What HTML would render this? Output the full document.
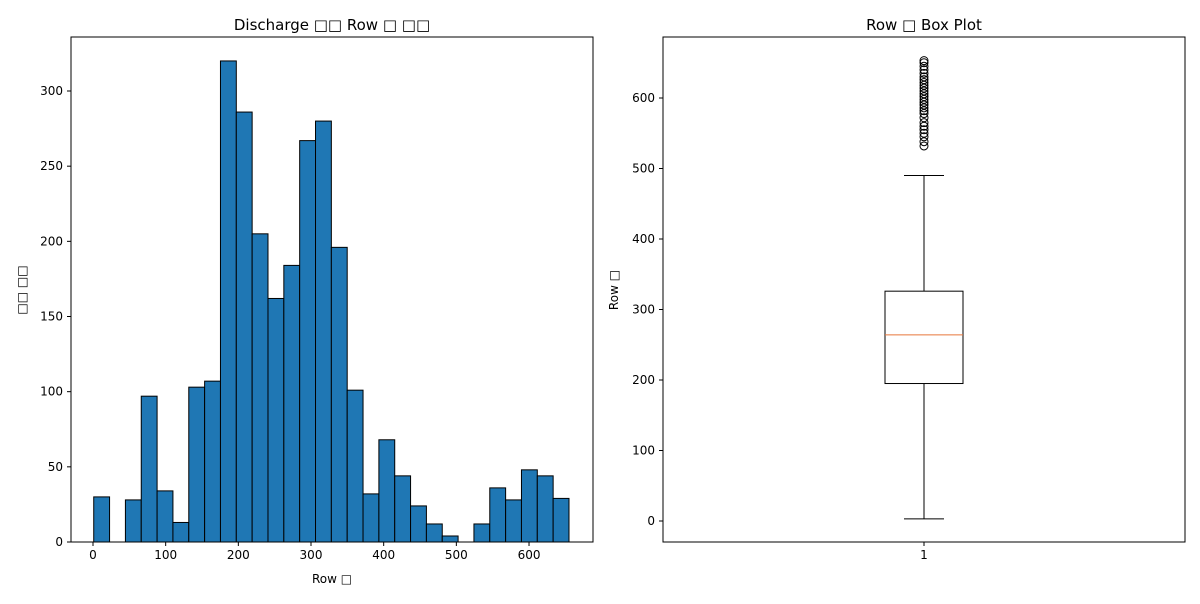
<!DOCTYPE html>
<html><head><meta charset="utf-8"><style>
body{margin:0;background:#fff;font-family:"DejaVu Sans","Liberation Sans",sans-serif}
svg text{font-family:"DejaVu Sans","Liberation Sans",sans-serif;fill:#000}
</style></head><body>
<svg id="c" width="1200" height="600" viewBox="0 0 1200 600"></svg>
<script>
const histCounts=[30,0,28,97,34,13,103,107,320,286,205,162,184,267,280,196,101,32,68,44,24,12,4,0,12,36,28,48,44,29];
const histMin=1, histMax=655;
const histXTicks=[0,100,200,300,400,500,600];
const histYTicks=[0,50,100,150,200,250,300];
const boxStats=[3,195,264,326,490];
const boxOutliers=[532,538,545,550,555,560,565,572,578,582,586,590,594,598,602,606,610,614,618,622,626,630,635,640,645,650,653];
const boxYTicks=[0,100,200,300,400,500,600];
const NS='http://www.w3.org/2000/svg';
const svg=document.getElementById('c');
function el(t,a,p){const e=document.createElementNS(NS,t);for(const k in a)e.setAttribute(k,a[k]);(p||svg).appendChild(e);return e;}
function txt(x,y,s,a,size,anchor,rot){const e=el('text',{x:x,y:y,'font-size':size||12,'text-anchor':anchor||'middle'});if(rot)e.setAttribute('transform','rotate(-90 '+x+' '+y+')');e.textContent=s;return e;}
// histogram
const hx=v=>93+v*0.7267, hy=v=>542-v*1.5033;
const bw=(histMax-histMin)/histCounts.length;
histCounts.forEach((c,i)=>{const x0=hx(histMin+i*bw),x1=hx(histMin+(i+1)*bw);
const r=el('rect',{x:x0,y:hy(c),width:x1-x0,height:hy(0)-hy(c),fill:'#1f77b4',stroke:'#000','stroke-width':1});

});
el('rect',{x:71,y:37,width:522,height:505,fill:'none',stroke:'#000','stroke-width':1,});
histXTicks.forEach(v=>{el('line',{x1:hx(v),x2:hx(v),y1:542,y2:546,stroke:'#000'});const t=txt(hx(v),559,v);});
histYTicks.forEach(v=>{el('line',{x1:67,x2:71,y1:hy(v),y2:hy(v),stroke:'#000'});const t=txt(63,hy(v)+4,v,null,12,'end');});
txt(332,30,'Discharge □□ Row □ □□',null,15);
txt(332,583,'Row □');
txt(26,290,'□□ □□',null,12,'middle',true);
// box plot
const by=v=>521-v*0.705;
const g=el('g',{});
el('line',{x1:924,x2:924,y1:by(boxStats[0]),y2:by(boxStats[1]),stroke:'#000'},g);
el('line',{x1:924,x2:924,y1:by(boxStats[3]),y2:by(boxStats[4]),stroke:'#000'},g);
el('line',{x1:904,x2:944,y1:by(boxStats[0]),y2:by(boxStats[0]),stroke:'#000'},g);
el('line',{x1:904,x2:944,y1:by(boxStats[4]),y2:by(boxStats[4]),stroke:'#000'},g);
el('rect',{x:885,y:by(boxStats[3]),width:78,height:by(boxStats[1])-by(boxStats[3]),fill:'none',stroke:'#000'},g);
el('line',{x1:885,x2:963,y1:by(boxStats[2]),y2:by(boxStats[2]),stroke:'#e8763a'},g);
boxOutliers.forEach(v=>{const c=el('circle',{cx:924,cy:by(v),r:4,fill:'none',stroke:'#000'},g);

});
el('rect',{x:663,y:37,width:522,height:505,fill:'none',stroke:'#000',});
boxYTicks.forEach(v=>{el('line',{x1:659,x2:663,y1:by(v),y2:by(v),stroke:'#000'});const t=txt(655,by(v)+4,v,null,12,'end');});
el('line',{x1:924,x2:924,y1:542,y2:546,stroke:'#000'});
txt(924,559,'1');
txt(924,30,'Row □ Box Plot',null,15);
txt(618,290,'Row □',null,12,'middle',true);
</script>
</body></html>
